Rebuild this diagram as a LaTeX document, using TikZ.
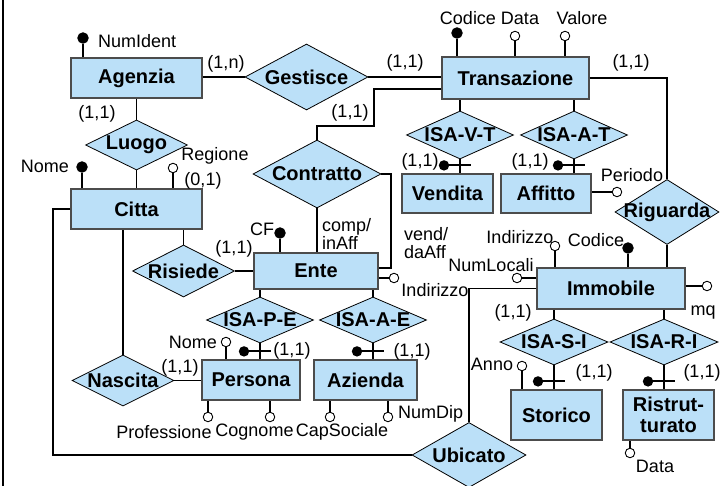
\documentclass[tikz,border=0pt]{standalone}
\usepackage{fontspec}
\setmainfont{Liberation Sans}
\usetikzlibrary{shapes.geometric}
\definecolor{erblue}{RGB}{187,224,248}

\begin{document}
\begin{tikzpicture}[x=1pt,y=-1pt,
  ent/.style={draw=black!70,line width=1.2pt,fill=erblue,inner sep=0pt,font=\fontsize{20}{20.5}\selectfont\bfseries},
  rel/.style={diamond,draw,line width=0.8pt,fill=erblue,inner sep=0pt,font=\fontsize{20}{20.5}\selectfont\bfseries},
  attr/.style={circle,draw,fill=white,line width=0.9pt,inner sep=0pt,minimum size=9.5pt},
  keyattr/.style={attr,fill=black,minimum size=10.5pt},
  txt/.style={inner sep=0pt,font=\fontsize{18}{18}\selectfont},
  lnk/.style={line width=1.9pt}]
  \useasboundingbox (0,0) rectangle (720,486);
  \draw[line width=2.5pt] (3,0) -- (3,486);

  % entities
  \node[ent,minimum width=131pt,minimum height=40pt] (agenzia) at (136.5,78) {Agenzia};
  \node[ent,minimum width=147pt,minimum height=42pt] (tr) at (515.5,78) {Transazione};
  \node[ent,minimum width=131pt,minimum height=40pt] (citta) at (136.5,209) {Citta};
  \node[ent,minimum width=124pt,minimum height=36pt] (ente) at (316,271) {Ente};
  \node[ent,minimum width=91pt,minimum height=39pt] (vendita) at (447.5,193.5) {Vendita};
  \node[ent,minimum width=90pt,minimum height=39pt] (affitto) at (546,193.5) {Affitto};
  \node[ent,minimum width=148pt,minimum height=41pt] (immobile) at (611,288.5) {Immobile};
  \node[ent,minimum width=98pt,minimum height=40pt] (persona) at (251,380) {Persona};
  \node[ent,minimum width=103pt,minimum height=40pt] (azienda) at (365.5,380) {Azienda};
  \node[ent,minimum width=91pt,minimum height=50pt] (storico) at (556.5,415) {Storico};
  \node[ent,minimum width=91pt,minimum height=50pt,align=center] (ristr) at (668.5,415) {Ristrut-\\turato};

  % relationships
  \node[rel,minimum width=123pt,minimum height=66pt] (gestisce) at (306.5,77) {\makebox[0pt]{Gestisce}};
  \node[rel,minimum width=102pt,minimum height=50pt] (luogo) at (136.5,145) {\makebox[0pt]{Luogo}};
  \node[rel,minimum width=128pt,minimum height=68pt] (contratto) at (317,174) {\makebox[0pt]{Contratto}};
  \node[rel,minimum width=107pt,minimum height=48pt] (isavt) at (460,135) {\makebox[0pt]{ISA-V-T}};
  \node[rel,minimum width=107pt,minimum height=48pt] (isaat) at (574,135) {\makebox[0pt]{ISA-A-T}};
  \node[rel,minimum width=104pt,minimum height=65pt] (riguarda) at (667,212) {\makebox[0pt]{Riguarda}};
  \node[rel,minimum width=102pt,minimum height=52pt] (risiede) at (183.5,271) {\makebox[0pt]{Risiede}};
  \node[rel,minimum width=107pt,minimum height=46pt] (isape) at (260,320) {\makebox[0pt]{ISA-P-E}};
  \node[rel,minimum width=107pt,minimum height=46pt] (isaae) at (373,320) {\makebox[0pt]{ISA-A-E}};
  \node[rel,minimum width=102pt,minimum height=51pt] (nascita) at (123,380.5) {\makebox[0pt]{Nascita}};
  \node[rel,minimum width=114pt,minimum height=65pt] (ubicato) at (469,455) {\makebox[0pt]{Ubicato}};
  \node[rel,minimum width=108pt,minimum height=46pt] (isasi) at (554,342) {\makebox[0pt]{ISA-S-I}};
  \node[rel,minimum width=108pt,minimum height=46pt] (isari) at (664,342) {\makebox[0pt]{ISA-R-I}};

  % attributes
  \node[keyattr] (ag-id) at (83,38) {};
  \node[keyattr] (tr-cod) at (457,33) {};
  \node[attr] (tr-data) at (515,36) {};
  \node[attr] (tr-val) at (565,36) {};
  \node[keyattr] (ci-nome) at (82,167) {};
  \node[attr] (ci-reg) at (173,168) {};
  \node[keyattr] (en-cf) at (280,233) {};
  \node[attr] (en-ind) at (394,278) {};
  \node[attr] (pe-nome) at (226,342) {};
  \node[attr] (pe-prof) at (208,417) {};
  \node[attr] (pe-cogn) at (270,417) {};
  \node[attr] (az-cap) at (330,417) {};
  \node[attr] (az-dip) at (388,417) {};
  \node[attr] (af-per) at (617,192) {};
  \node[attr] (im-num) at (517,278) {};
  \node[attr] (im-ind) at (555,246) {};
  \node[keyattr] (im-cod) at (628,248) {};
  \node[attr] (im-mq) at (707,286) {};
  \node[attr] (st-anno) at (522,366) {};
  \node[attr] (ri-data) at (630,453) {};

  \foreach \a/\e in {ag-id/agenzia, tr-cod/tr, tr-data/tr, tr-val/tr, ci-nome/citta, ci-reg/citta,
      en-cf/ente, pe-nome/persona, im-ind/immobile, im-cod/immobile, st-anno/storico}
    \draw[lnk] (\a) -- (\a |- \e.north);
  \foreach \a/\e in {pe-prof/persona, pe-cogn/persona, az-cap/azienda, az-dip/azienda, ri-data/ristr}
    \draw[lnk] (\a) -- (\a |- \e.south);
  \draw[lnk] (en-ind) -- (en-ind -| ente.east);
  \draw[lnk] (af-per) -- (af-per -| affitto.east);
  \draw[lnk] (im-num) -- (im-num -| immobile.west);
  \draw[lnk] (im-mq) -- (im-mq -| immobile.east);

  % links
  \coordinate (trbend) at (374,126);
  \coordinate (cobend) at (391,268);
  \coordinate (cibend) at (53,455);
  \draw[lnk] (agenzia.east |- gestisce.west) -- (gestisce.west);
  \draw[lnk] (gestisce.east) -- (gestisce.east -| tr.west);
  \draw[lnk] (agenzia.south) -- (luogo.north);
  \draw[lnk] (luogo.south) -- (citta.north);
  \draw[lnk] (tr.east) -| (riguarda.north);
  \draw[lnk] (riguarda.south) -- (riguarda.south |- immobile.north);
  \draw[lnk] ([yshift=-11pt]tr.west) -| (trbend) -| (contratto.north);
  \draw[lnk] (contratto.east) -| (cobend) -- (cobend -| ente.east);
  \draw[lnk] (contratto.south) -- (contratto.south |- ente.north);
  \draw[lnk] (risiede.north) -- (risiede.north |- citta.south);
  \draw[lnk] (risiede.east) -- (risiede.east -| ente.west);
  \draw[lnk] (nascita.north) -- (nascita.north |- citta.south);
  \draw[lnk] (nascita.east) -- (nascita.east -| persona.west);
  \draw[lnk] (citta.west) -| (cibend) -- (ubicato.west);
  \draw[lnk] (immobile.west) -| (ubicato.north);

  % generalizations
  \foreach \i/\p/\c in {isavt/tr/vendita, isaat/tr/affitto, isape/ente/persona,
      isaae/ente/azienda, isasi/immobile/storico, isari/immobile/ristr} {
    \draw[lnk] (\i.north) -- (\i.north |- \p.south);
    \draw[lnk] (\i.south) -- (\i.south |- \c.north);
    \draw[lnk] ([xshift=-16pt,yshift=8pt]\i.south |- \c.north) -- ++(27,0);
    \fill ([xshift=-16pt,yshift=8pt]\i.south |- \c.north) circle (5.2pt);
  }

  % texts
  \node[txt,anchor=west] (t-numid) at (98,41) {NumIdent};
  \node[txt] (c-agges) at (226,64) {(1,n)};
  \node[txt] (c-gestr) at (405,63) {(1,1)};
  \node[txt] (c-agluo) at (97,114) {(1,1)};
  \node[txt] (c-trrig) at (631,63) {(1,1)};
  \node[txt] (c-trcon) at (350,113) {(1,1)};
  \node[txt] (t-trcod) at (468,18) {Codice};
  \node[txt] (t-trdata) at (520,18) {Data};
  \node[txt] (t-trval) at (582,18) {Valore};
  \node[txt] (t-cireg) at (215,156) {Regione};
  \node[txt] (t-cinome) at (45,166) {Nome};
  \node[txt] (c-cireg) at (203,181) {(0,1)};
  \node[txt,anchor=west,align=left] (t-comp) at (322,234) {comp/\\inAff};
  \node[txt,anchor=west,align=left] (t-vend) at (404,243) {vend/\\daAff};
  \node[txt] (t-cf) at (262,229) {CF};
  \node[txt] (c-risente) at (234,249) {(1,1)};
  \node[txt] (t-enind) at (435,290) {Indirizzo};
  \node[txt] (c-naspe) at (180,368) {(1,1)};
  \node[txt] (t-penome) at (193,342) {Nome};
  \node[txt] (c-isape) at (292,351) {(1,1)};
  \node[txt] (c-isaae) at (412,352) {(1,1)};
  \node[txt] (t-peprof) at (164,432) {Professione};
  \node[txt] (t-pecogn) at (254.5,432) {Cognome};
  \node[txt] (t-azcap) at (342,432) {CapSociale};
  \node[txt,anchor=west] (t-azdip) at (398,414) {NumDip};
  \node[txt] (c-isavt) at (420,162) {(1,1)};
  \node[txt] (c-isaat) at (530,162) {(1,1)};
  \node[txt] (t-afper) at (632,175) {Periodo};
  \node[txt] (t-imind) at (520,237) {Indirizzo};
  \node[txt] (t-imcod) at (596,240) {Codice};
  \node[txt] (t-imnum) at (491,265) {NumLocali};
  \node[txt] (t-immq) at (703,313) {mq};
  \node[txt] (c-imisa) at (513,313) {(1,1)};
  \node[txt] (t-stanno) at (492,364) {Anno};
  \node[txt] (c-isasi) at (594,373) {(1,1)};
  \node[txt] (c-isari) at (702,373) {(1,1)};
  \node[txt] (t-ridata) at (655,466) {Data};
\end{tikzpicture}
\end{document}
